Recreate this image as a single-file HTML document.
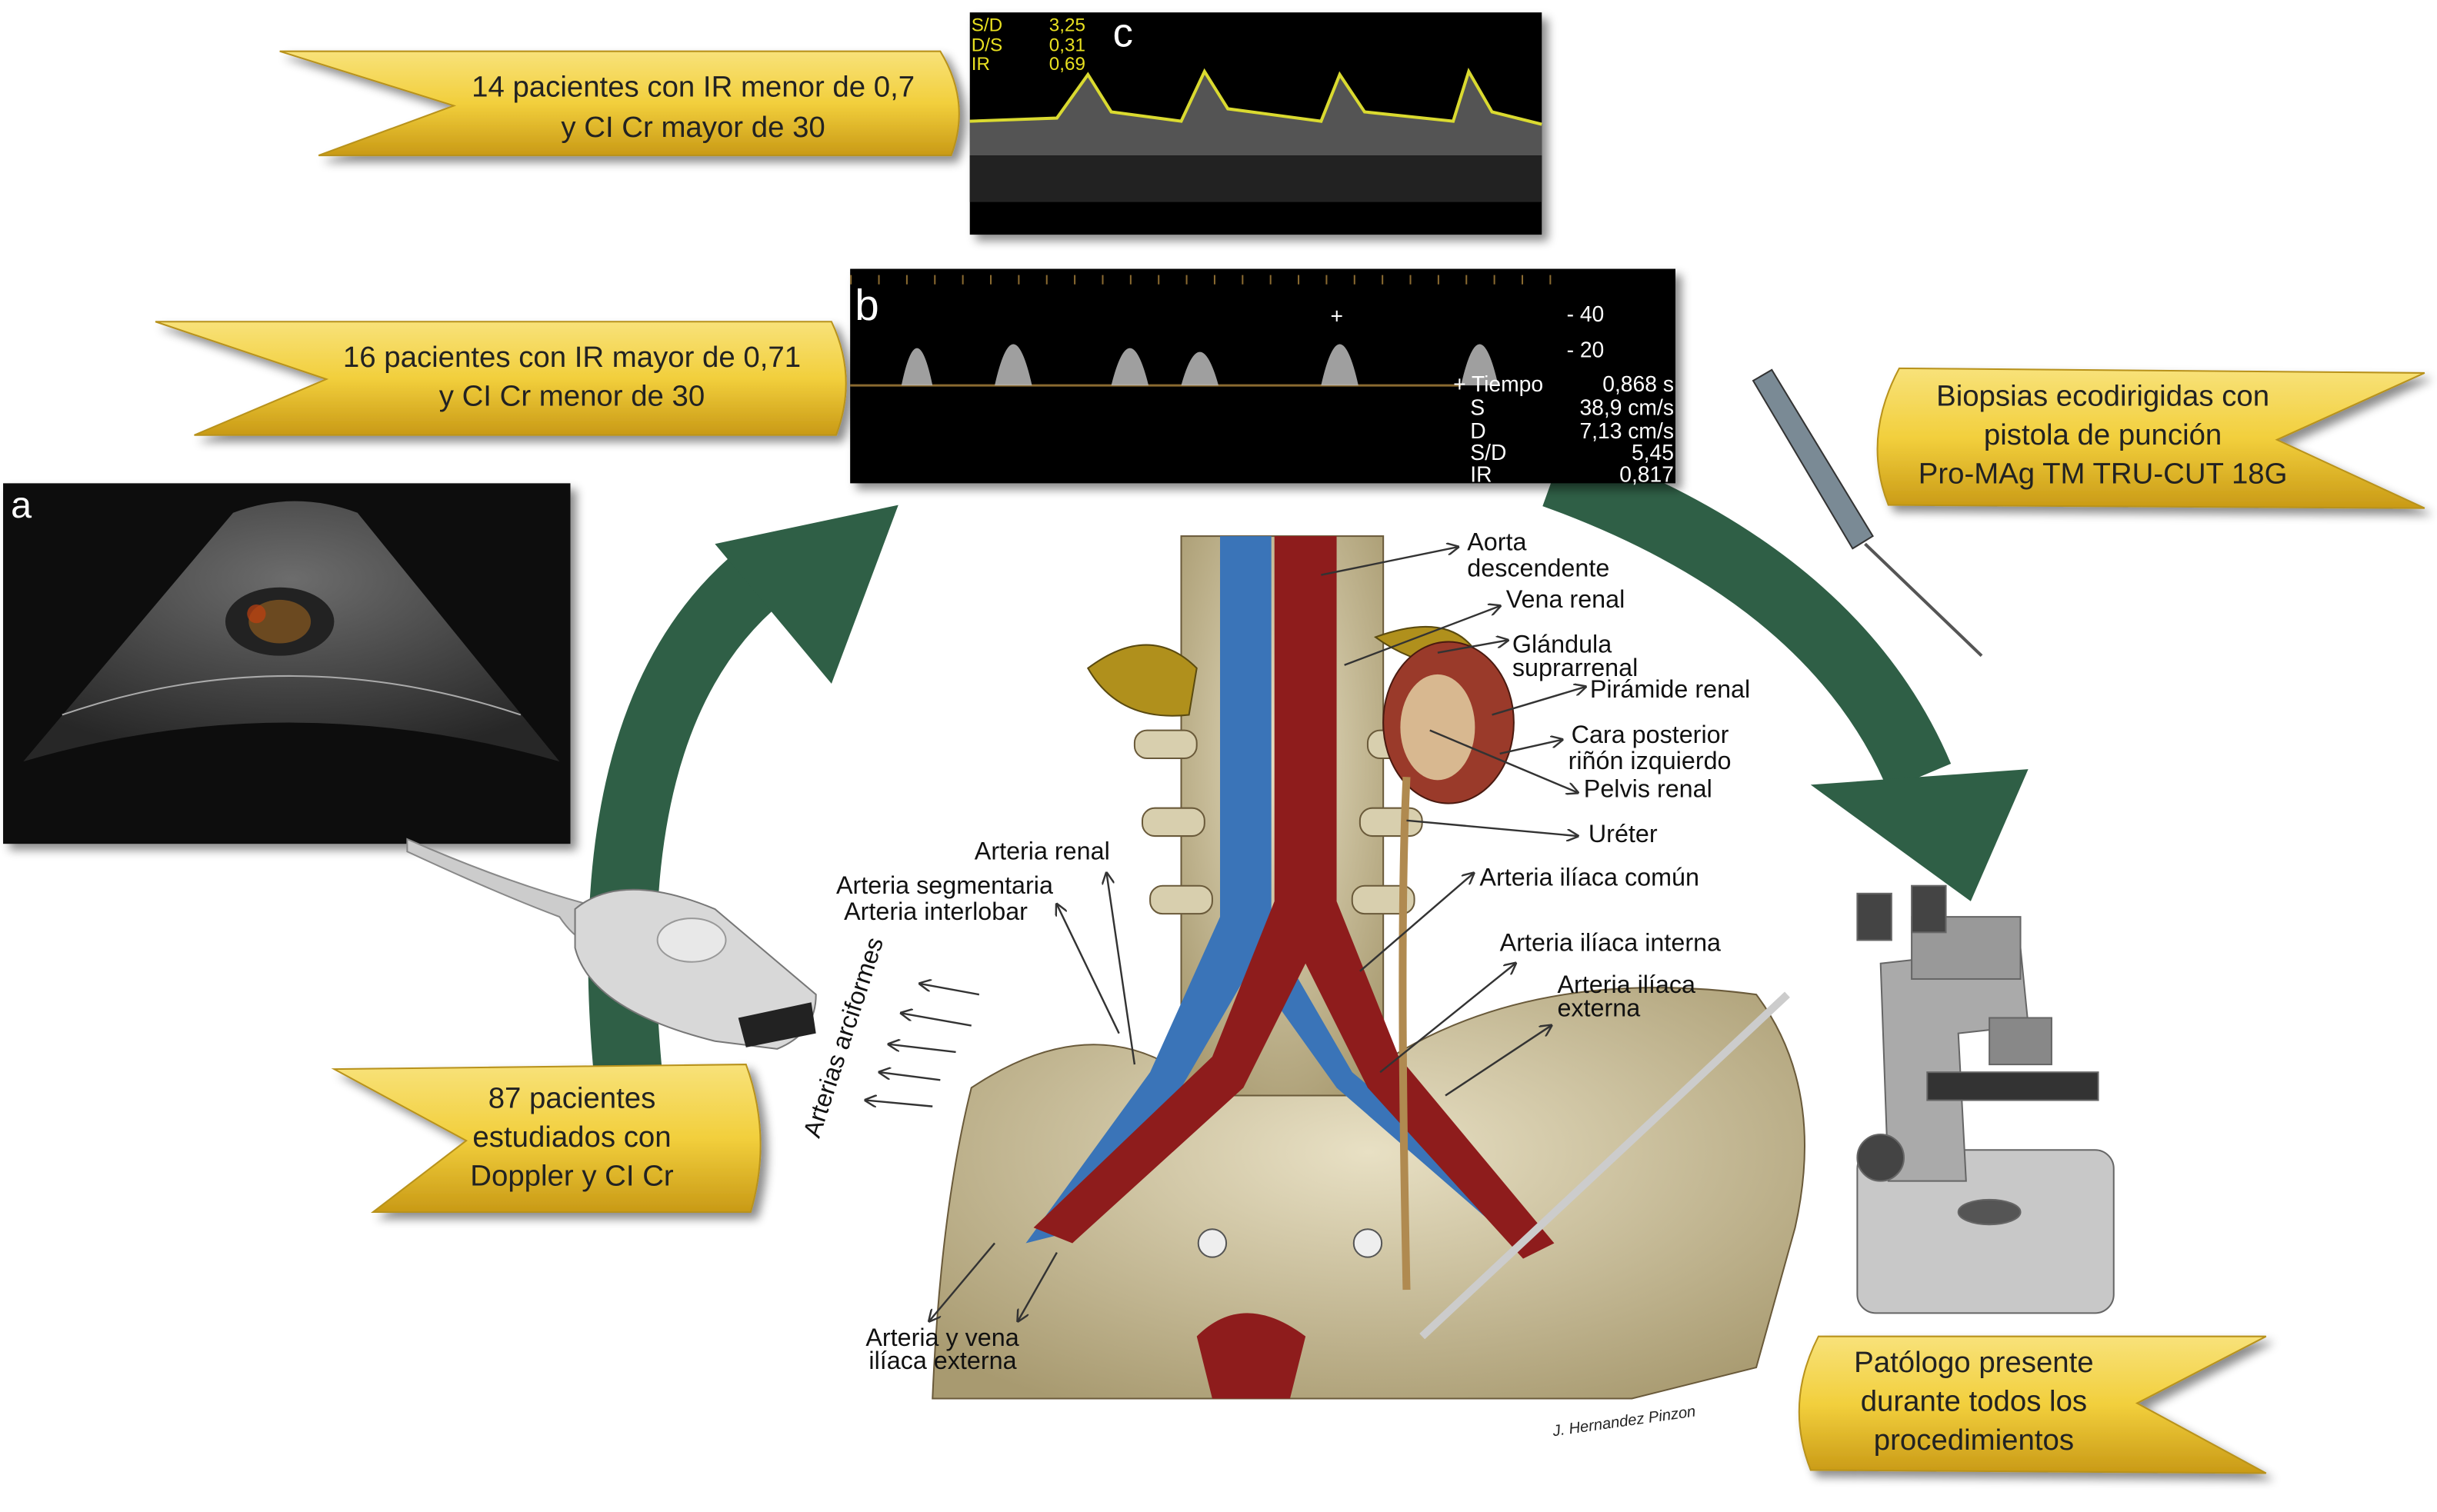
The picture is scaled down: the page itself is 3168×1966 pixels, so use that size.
<!DOCTYPE html>
<html><head><meta charset="utf-8"><style>
html,body{margin:0;padding:0;background:#fff;}
svg{display:block;}
text{font-family:"Liberation Sans",sans-serif;}
</style></head><body>
<svg width="3168" height="1966" viewBox="0 0 1568 973" preserveAspectRatio="none" xmlns="http://www.w3.org/2000/svg">
<defs>
<linearGradient id="yg" x1="0" y1="0" x2="0" y2="1">
<stop offset="0" stop-color="#f8e27a"/><stop offset="0.5" stop-color="#f2cf3c"/><stop offset="1" stop-color="#c99a16"/>
</linearGradient>
<radialGradient id="bone" cx="0.5" cy="0.4" r="0.7"><stop offset="0" stop-color="#e8e0c4"/><stop offset="1" stop-color="#a89a70"/></radialGradient>
<radialGradient id="us" cx="0.5" cy="0.3" r="0.7"><stop offset="0" stop-color="#777"/><stop offset="1" stop-color="#2a2a2a"/></radialGradient>
<filter id="sh" x="-10%" y="-10%" width="130%" height="130%"><feDropShadow dx="4" dy="4" stdDeviation="3" flood-color="#000" flood-opacity="0.45"/></filter>
<marker id="ah" markerWidth="8" markerHeight="8" refX="7" refY="4" orient="auto" markerUnits="userSpaceOnUse"><path d="M0,0 L8,4 L0,8" fill="none" stroke="#333" stroke-width="1.2"/></marker>
</defs>
<rect width="1568" height="973" fill="#fff"/>

<!-- green arcs -->
<path d="M405,700 Q380,460 490,370" fill="none" stroke="#2f5f46" stroke-width="44"/>
<polygon points="460,350 578,325 535,440" fill="#2f5f46"/>
<path d="M1000,305 Q1180,370 1235,500" fill="none" stroke="#2f5f46" stroke-width="44"/>
<polygon points="1165,505 1305,495 1268,580" fill="#2f5f46"/>

<!-- banners -->
<g stroke="#b8921a" stroke-width="1" filter="url(#sh)">
<path d="M180,33 L605,33 Q625,66 612,100 L205,100 L292,68 Z" fill="url(#yg)"/>
<path d="M100,207 L535,207 Q552,243 538,280 L125,280 L210,244 Z" fill="url(#yg)"/>
<path d="M1222,237 L1560,240 L1465,283 L1560,327 L1215,325 Q1198,282 1222,237 Z" fill="url(#yg)"/>
<path d="M215,688 L480,685 Q497,732 483,780 L240,780 L300,734 Z" fill="url(#yg)"/>
<path d="M1170,860 L1458,860 L1375,903 L1458,948 L1165,946 Q1148,903 1170,860 Z" fill="url(#yg)"/>
</g>
<g font-size="19" fill="#222" text-anchor="middle">
<text x="446" y="62">14 pacientes con IR menor de  0,7</text>
<text x="446" y="88">y CI Cr mayor de 30</text>
<text x="368" y="236">16 pacientes con IR mayor de  0,71</text>
<text x="368" y="261">y CI Cr menor de 30</text>
<text x="1353" y="261">Biopsias ecodirigidas con</text>
<text x="1353" y="286">pistola de punción</text>
<text x="1353" y="311">Pro-MAg TM TRU-CUT 18G</text>
<text x="368" y="713">87 pacientes</text>
<text x="368" y="738">estudiados con</text>
<text x="368" y="763">Doppler y CI Cr</text>
<text x="1270" y="883">Patólogo presente</text>
<text x="1270" y="908">durante todos los</text>
<text x="1270" y="933">procedimientos</text>
</g>

<!-- doppler c -->
<rect x="624" y="8" width="368" height="143" fill="#060606" filter="url(#sh)"/>
<path d="M624,100 L624,78 L680,76 L700,48 L715,72 L760,78 L775,46 L790,70 L850,78 L862,48 L878,72 L935,78 L945,46 L960,72 L992,80 L992,100 Z" fill="#777" opacity="0.7"/>
<rect x="624" y="100" width="368" height="30" fill="#222"/>
<path d="M624,78 L680,76 L700,48 L715,72 L760,78 L775,46 L790,70 L850,78 L862,48 L878,72 L935,78 L945,46 L960,72 L992,80" fill="none" stroke="#dada30" stroke-width="2"/>
<g font-size="12" fill="#e8e020"><text x="625" y="20">S/D</text><text x="625" y="33">D/S</text><text x="625" y="45">IR</text><text x="675" y="20">3,25</text><text x="675" y="33">0,31</text><text x="675" y="45">0,69</text></g>
<text x="716" y="30" font-size="26" fill="#fff">c</text>

<!-- doppler b -->
<rect x="547" y="173" width="531" height="138" fill="#050505" filter="url(#sh)"/>
<line x1="547" y1="180" x2="1000" y2="180" stroke="#8a6a30" stroke-width="6" stroke-dasharray="1,17"/>
<line x1="547" y1="248" x2="940" y2="248" stroke="#8a6a30" stroke-width="1.5"/>
<g fill="#bbb" opacity="0.85">
<path d="M580,248 Q590,200 600,248Z M640,248 Q652,195 664,248Z M715,248 Q727,200 739,248Z M760,248 Q772,205 784,248Z M850,248 Q862,195 874,248Z M940,248 Q952,195 964,248Z"/>
</g>
<text x="550" y="206" font-size="28" fill="#fff">b</text>
<text x="856" y="208" font-size="14" fill="#fff">+</text>
<g font-size="14" fill="#fff">
<text x="1008" y="207">-  40</text><text x="1008" y="230">-  20</text>
<text x="935" y="252">+ Tiempo</text><text x="1077" y="252" text-anchor="end">0,868 s</text>
<text x="946" y="267">S</text><text x="1077" y="267" text-anchor="end">38,9 cm/s</text>
<text x="946" y="282">D</text><text x="1077" y="282" text-anchor="end">7,13 cm/s</text>
<text x="946" y="296">S/D</text><text x="1077" y="296" text-anchor="end">5,45</text>
<text x="946" y="310">IR</text><text x="1077" y="310" text-anchor="end">0,817</text>
</g>

<!-- ultrasound a -->
<rect x="2" y="311" width="365" height="232" fill="#080808" filter="url(#sh)"/>
<path d="M15,490 L150,330 Q190,315 230,330 L360,490 Q185,440 15,490 Z" fill="url(#us)" opacity="0.9"/>
<path d="M40,460 Q185,410 335,460" fill="none" stroke="#aaa" stroke-width="1"/>
<ellipse cx="180" cy="400" rx="35" ry="22" fill="#222"/>
<ellipse cx="180" cy="400" rx="20" ry="14" fill="#8a5a20" opacity="0.7"/>
<circle cx="165" cy="395" r="6" fill="#c04010" opacity="0.7"/>
<text x="7" y="333" font-size="24" fill="#fff">a</text>

<!-- probe -->
<path d="M262,540 Q330,570 390,585 L405,600 Q380,620 360,590 Q320,575 262,548Z" fill="#ccc" stroke="#888"/>
<path d="M370,585 Q400,560 460,585 L525,640 Q525,665 500,675 L460,670 Q380,650 370,610Z" fill="#d8d8d8" stroke="#777"/>
<ellipse cx="445" cy="605" rx="22" ry="14" fill="#e8e8e8" stroke="#999"/>
<path d="M475,655 L522,645 L525,665 L480,674Z" fill="#222"/>

<!-- needle -->
<path d="M1128,245 L1140,238 L1205,345 L1192,353Z" fill="#7a8a95" stroke="#333"/>
<line x1="1200" y1="350" x2="1275" y2="422" stroke="#555" stroke-width="2"/>

<!-- microscope -->
<g fill="#b8b8b8" stroke="#666">
<rect x="1195" y="740" width="165" height="105" rx="12" fill="#c8c8c8"/>
<path d="M1210,620 L1300,610 L1305,660 L1260,665 L1265,760 L1215,760 Z" fill="#aaa"/>
<rect x="1230" y="590" width="70" height="40" fill="#999"/>
<rect x="1195" y="575" width="22" height="30" fill="#444"/>
<rect x="1230" y="570" width="22" height="30" fill="#444"/>
<rect x="1280" y="655" width="40" height="30" fill="#888"/>
<rect x="1240" y="690" width="110" height="18" fill="#333"/>
<circle cx="1210" cy="745" r="15" fill="#444"/>
<ellipse cx="1280" cy="780" rx="20" ry="8" fill="#555"/>
</g>

<!-- anatomy -->
<g>
<path d="M600,900 Q605,780 625,700 Q700,650 760,690 L880,690 Q980,620 1130,640 Q1175,700 1155,790 L1130,880 L1050,900 Z" fill="url(#bone)" stroke="#6a5a3a"/>
<rect x="760" y="345" width="130" height="360" fill="url(#bone)" stroke="#6a5a3a"/>
<g fill="#d8cfae" stroke="#6a5a3a">
<rect x="730" y="470" width="40" height="18" rx="8"/><rect x="880" y="470" width="40" height="18" rx="8"/>
<rect x="735" y="520" width="40" height="18" rx="8"/><rect x="875" y="520" width="40" height="18" rx="8"/>
<rect x="740" y="570" width="40" height="18" rx="8"/><rect x="870" y="570" width="40" height="18" rx="8"/>
</g>
<path d="M785,345 L818,345 L818,600 L760,700 L700,790 L660,800 L740,690 L785,590 Z" fill="#3a74b8"/>
<path d="M818,600 L870,690 L990,790 L975,800 L860,700 L810,630Z" fill="#3a74b8"/>
<path d="M820,345 L860,345 L860,580 L900,680 L1000,800 L980,810 L880,700 L840,620 L800,700 L690,800 L665,790 L780,680 L820,580 Z" fill="#8e1c1c"/>
<path d="M700,430 Q740,400 770,430 L765,460 Q720,465 700,430Z" fill="#b0901c" stroke="#5a4a10"/>
<path d="M885,410 Q940,390 955,430 L935,430 Q905,425 885,410Z" fill="#b0901c" stroke="#5a4a10"/>
<ellipse cx="932" cy="465" rx="42" ry="52" fill="#9a3a2a" stroke="#4a1a10"/>
<ellipse cx="925" cy="468" rx="24" ry="34" fill="#d8b890"/>
<path d="M905,500 Q900,600 905,830" fill="none" stroke="#b08a50" stroke-width="5"/>
<circle cx="780" cy="800" r="9" fill="#eee" stroke="#555"/><circle cx="880" cy="800" r="9" fill="#eee" stroke="#555"/>
<line x1="915" y1="860" x2="1150" y2="640" stroke="#ccc" stroke-width="5"/>
<path d="M770,860 Q800,830 840,860 L830,900 L780,900Z" fill="#8e1c1c"/>
</g>
<g stroke="#333" stroke-width="1.2" fill="none" marker-end="url(#ah)">
<line x1="850" y1="370" x2="938" y2="352"/>
<line x1="865" y1="428" x2="965" y2="390"/>
<line x1="925" y1="420" x2="970" y2="412"/>
<line x1="960" y1="460" x2="1020" y2="442"/>
<line x1="965" y1="485" x2="1005" y2="476"/>
<line x1="920" y1="470" x2="1015" y2="510"/>
<line x1="905" y1="528" x2="1015" y2="538"/>
<line x1="875" y1="625" x2="948" y2="562"/>
<line x1="888" y1="690" x2="975" y2="620"/>
<line x1="930" y1="705" x2="998" y2="660"/>
<line x1="730" y1="685" x2="712" y2="562"/>
<line x1="720" y1="665" x2="680" y2="582"/>
<line x1="640" y1="800" x2="598" y2="850"/>
<line x1="680" y1="806" x2="655" y2="850"/>
<line x1="630" y1="640" x2="592" y2="633"/><line x1="625" y1="660" x2="580" y2="652"/><line x1="615" y1="677" x2="572" y2="672"/><line x1="605" y1="695" x2="566" y2="690"/><line x1="600" y1="712" x2="557" y2="708"/>
</g>
<g font-size="16" fill="#111">
<text x="944" y="354">Aorta</text><text x="944" y="371">descendente</text>
<text x="969" y="391">Vena renal</text>
<text x="973" y="420">Glándula</text><text x="973" y="435">suprarrenal</text>
<text x="1023" y="449">Pirámide renal</text>
<text x="1011" y="478">Cara posterior</text><text x="1009" y="495">riñón izquierdo</text>
<text x="1019" y="513">Pelvis renal</text>
<text x="1022" y="542">Uréter</text>
<text x="952" y="570">Arteria ilíaca común</text>
<text x="965" y="612">Arteria ilíaca interna</text>
<text x="1002" y="639">Arteria ilíaca</text><text x="1002" y="654">externa</text>
<text x="627" y="553">Arteria renal</text>
<text x="538" y="575">Arteria segmentaria</text>
<text x="543" y="592">Arteria interlobar</text>
<text x="557" y="866">Arteria y vena</text><text x="559" y="881">ilíaca externa</text>
<text transform="translate(527,733) rotate(-72)">Arterias arciformes</text>
</g>
<text x="998" y="917" font-size="10" font-style="italic" fill="#222" transform="rotate(-8 1050 910)">J. Hernandez Pinzon</text>
</svg>
</body></html>
